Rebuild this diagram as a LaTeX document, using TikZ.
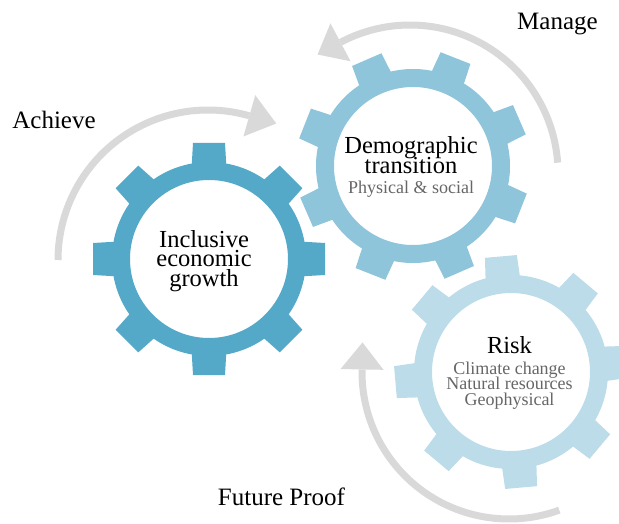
\documentclass[tikz,border=0pt]{standalone}
\usepackage{fontspec}
\setmainfont{Liberation Serif}
\usetikzlibrary{calc}
\definecolor{gearA}{HTML}{54A8C8}
\definecolor{gearB}{HTML}{8FC5DA}
\definecolor{gearC}{HTML}{BBDCE8}
\definecolor{arrowgray}{HTML}{D9D9D9}
\definecolor{subgray}{HTML}{666666}
\newcommand\tightskip{\lineskiplimit=-50pt\relax}
\tikzset{
  cyclearc/.style={draw=arrowgray, line width=7pt},
  arrowhead/.style={fill=arrowgray},
  cyclelabel/.style={font=\fontsize{25}{30}\selectfont, anchor=base, inner sep=0pt},
  gearbody/.style={align=center, anchor=north, inner sep=0pt},
}
\newcommand\drawgear[3]{%
  \begin{scope}[shift={#1}, rotate=#2]
    \fill[#3, even odd rule] (0,0) circle[radius=97] (0,0) circle[radius=79];
    \foreach \k in {0,...,7}
      \fill[#3, rotate=45*\k] (-17.5,90) -- (-16,116) -- (16,116) -- (17.5,90) -- cycle;
  \end{scope}}
\begin{document}
\begin{tikzpicture}[x=1pt, y=1pt]
  \useasboundingbox (0,0) rectangle (619,523);
  % arc centres
  \coordinate (cA) at (208,263);
  \coordinate (cM) at (410,350);
  \coordinate (cF) at (509,151);
  % gears (back to front)
  \drawgear{(511,151)}{5}{gearC}
  \drawgear{(413,357)}{-21.5}{gearB}
  \drawgear{(209,264)}{0}{gearA}
  % cycle arrows
  \draw[cyclearc] ($(cA)+(180:150)$) arc[start angle=180, end angle=74, radius=150];
  \fill[arrowhead] ($(cA)+(74:171.5)$) -- ($(cA)+(74:128.5)$) -- ($(cA)+(74:150)+(-16:28)$) -- cycle;
  \draw[cyclearc] ($(cM)+(4:148)$) arc[start angle=4, end angle=118, radius=148];
  \fill[arrowhead] ($(cM)+(118:169.5)$) -- ($(cM)+(118:126.5)$) -- ($(cM)+(118:148)+(208:26)$) -- cycle;
  \draw[cyclearc] ($(cF)+(290:147)$) arc[start angle=290, end angle=179, radius=147];
  \fill[arrowhead] ($(cF)+(179:168.5)$) -- ($(cF)+(179:125.5)$) -- ($(cF)+(179:147)+(89:27)$) -- cycle;
  % labels
  \node[cyclelabel] (achieve) at (54,394) {Achieve};
  \node[cyclelabel] (manage) at (557.5,493) {Manage};
  \node[cyclelabel] (future) at (281.5,18) {Future Proof};
  % gear texts
  \node[gearbody, font={\fontsize{24.5}{19.5}\selectfont\tightskip}]
    (inclusive) at (204,293) {Inclusive\\economic\\growth};
  \node[gearbody, font={\fontsize{24.5}{19.5}\selectfont\tightskip}]
    (demographic) at (411,386.2)
    {Demographic\\transition\\[1pt]{\fontsize{18}{18}\selectfont\color{subgray}Physical \& social}};
  \node[gearbody, text=subgray, font={\fontsize{18}{15.3}\selectfont\tightskip}]
    (risk) at (509.5,187)
    {{\fontsize{24.5}{24.5}\selectfont\color{black}Risk}\\[6pt]Climate change\\Natural resources\\Geophysical};
\end{tikzpicture}
\end{document}
